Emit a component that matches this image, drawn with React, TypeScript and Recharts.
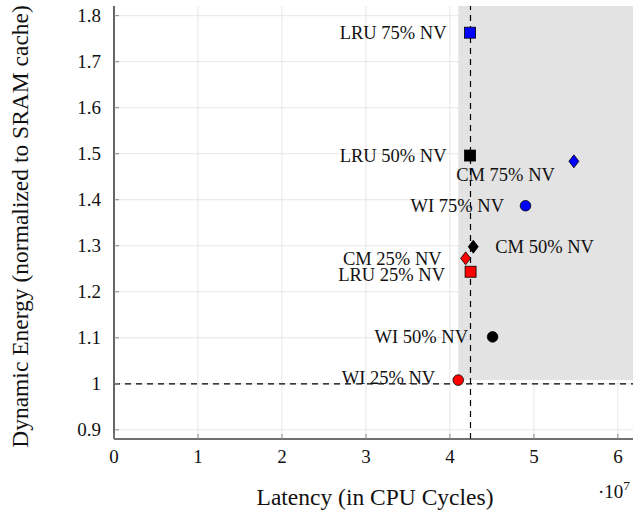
import React from 'react';
import { ScatterChart, Scatter, XAxis, YAxis, CartesianGrid, ReferenceArea, ReferenceLine, Label } from 'recharts';

const FONT = '"Liberation Serif", "Times New Roman", serif';

// Data (latency in units of 10^7 CPU cycles, energy normalized to SRAM cache)
const pointNames = ['LRU 75% NV', 'LRU 50% NV', 'LRU 25% NV', 'CM 75% NV', 'CM 50% NV', 'CM 25% NV', 'WI 75% NV', 'WI 50% NV', 'WI 25% NV'];
const latencyE7 = [4.24, 4.24, 4.246, 5.476, 4.278, 4.187, 4.9, 4.508, 4.099];
const dynEnergy = [1.763, 1.496, 1.2435, 1.4835, 1.298, 1.2726, 1.387, 1.102, 1.008];
const policies = ['LRU', 'LRU', 'LRU', 'CM', 'CM', 'CM', 'WI', 'WI', 'WI'];
const nvPercent = [75, 50, 25, 75, 50, 25, 75, 50, 25];

const xTicks = [0, 1, 2, 3, 4, 5, 6];
const yTicks = [0.9, 1.0, 1.1, 1.2, 1.3, 1.4, 1.5, 1.6, 1.7, 1.8];
const xDomain = [0, 6.18];
const yDomain = [0.88, 1.821];
const sramLatencyE7 = 4.245;
const sramEnergy = 1.0;
const frontierIndex = 8; // WI 25% NV

const nvColor: Record<number, string> = { 75: '#0000ff', 50: '#000000', 25: '#ff0000' };

const labelPlacement: Record<string, { dx: number; dy: number; anchor: 'start' | 'end' | 'middle' }> = {
  'LRU 75% NV': { dx: -23.5, dy: 0, anchor: 'end' },
  'LRU 50% NV': { dx: -23.5, dy: 0, anchor: 'end' },
  'LRU 25% NV': { dx: -25.5, dy: 3, anchor: 'end' },
  'CM 75% NV': { dx: -19, dy: 13, anchor: 'end' },
  'CM 50% NV': { dx: 22, dy: 0, anchor: 'start' },
  'CM 25% NV': { dx: -24, dy: 0, anchor: 'end' },
  'WI 75% NV': { dx: -21.5, dy: 0, anchor: 'end' },
  'WI 50% NV': { dx: -24.5, dy: 0, anchor: 'end' },
  'WI 25% NV': { dx: -23, dy: -2.5, anchor: 'end' },
};

const rows = pointNames.map((name, i) => ({
  name,
  x: latencyE7[i],
  y: dynEnergy[i],
  policy: policies[i],
  nv: nvPercent[i],
}));
const byPolicy = (p: string) => rows.filter((r) => r.policy === p);

const fmt = (v: number) => String(Number(v.toFixed(1)));

function Marker(props: any) {
  const { cx, cy, payload } = props;
  if (cx == null || cy == null) return null;
  const fill = nvColor[payload.nv];
  let mark: React.ReactNode;
  if (payload.policy === 'LRU') {
    mark = <rect x={cx - 5.5} y={cy - 5.5} width={11} height={11} fill={fill} stroke="#000" strokeWidth={0.8} />;
  } else if (payload.policy === 'CM') {
    mark = (
      <polygon
        points={`${cx},${cy - 6.5} ${cx + 5},${cy} ${cx},${cy + 6.5} ${cx - 5},${cy}`}
        fill={fill}
        stroke="#000"
        strokeWidth={0.8}
      />
    );
  } else {
    mark = <circle cx={cx} cy={cy} r={5.3} fill={fill} stroke="#000" strokeWidth={0.8} />;
  }
  const lp = labelPlacement[payload.name];
  return (
    <g>
      {mark}
      <text
        x={cx + lp.dx}
        y={cy + lp.dy}
        dy="0.34em"
        textAnchor={lp.anchor}
        fontFamily={FONT}
        fontSize={18.5}
        fill="#111"
      >
        {payload.name}
      </text>
    </g>
  );
}

function BottomTick(props: any) {
  const { x, y, payload } = props;
  return (
    <g>
      <line x1={x} y1={y} x2={x} y2={y - 5} stroke="#8c8c8c" strokeWidth={1} />
      <text x={x} y={y + 24} textAnchor="middle" fontFamily={FONT} fontSize={19} fill="#111">
        {fmt(payload.value)}
      </text>
    </g>
  );
}

function TopTick(props: any) {
  const { x, y } = props;
  return <line x1={x} y1={y} x2={x} y2={y + 5} stroke="#8c8c8c" strokeWidth={1} />;
}

function LeftTick(props: any) {
  const { x, y, payload } = props;
  return (
    <g>
      <line x1={x} y1={y} x2={x + 5} y2={y} stroke="#8c8c8c" strokeWidth={1} />
      <text x={x - 13} y={y} dy="0.34em" textAnchor="end" fontFamily={FONT} fontSize={19} fill="#111">
        {fmt(payload.value)}
      </text>
    </g>
  );
}

export default function App() {
  return (
    <div style={{ position: 'absolute', left: 0, top: 0, width: 633, height: 515, background: '#fff' }}>
      <ScatterChart width={633} height={515} margin={{ top: 6, right: 0, bottom: 0, left: 0 }}>
        <CartesianGrid
          stroke="#e6e6e6"
          strokeWidth={1}
          horizontalValues={yTicks}
          verticalValues={xTicks}
          xAxisId="bottom"
          yAxisId="left"
        />
        <XAxis
          xAxisId="bottom"
          dataKey="x"
          type="number"
          domain={xDomain}
          ticks={xTicks}
          interval={0}
          allowDataOverflow
          height={76}
          tickSize={0}
          tickMargin={0}
          tickLine={false}
          axisLine={{ stroke: '#404040', strokeWidth: 1.6 }}
          tick={<BottomTick />}
        >
          <Label
            content={(p: any) => {
              const vb = p.viewBox || {};
              return (
                <text
                  x={vb.x + vb.width / 2 + 1.5}
                  y={vb.y + 66}
                  textAnchor="middle"
                  fontFamily={FONT}
                  fontSize={23.5}
                  fill="#111"
                >
                  Latency (in CPU Cycles)
                </text>
              );
            }}
          />
          <Label
            content={(p: any) => {
              const vb = p.viewBox || {};
              return (
                <text x={vb.x + vb.width - 35} y={vb.y + 59} fontFamily={FONT} fontSize={19} fill="#111">
                  ·10<tspan dy={-8} fontSize={13.5}>7</tspan>
                </text>
              );
            }}
          />
        </XAxis>
        <XAxis
          xAxisId="top"
          orientation="top"
          type="number"
          domain={xDomain}
          ticks={xTicks}
          interval={0}
          allowDataOverflow
          height={0}
          tickSize={0}
          tickMargin={0}
          tickLine={false}
          axisLine={{ stroke: '#404040', strokeWidth: 1.6 }}
          tick={<TopTick />}
        />
        <YAxis
          yAxisId="left"
          dataKey="y"
          type="number"
          domain={yDomain}
          ticks={yTicks}
          interval={0}
          allowDataOverflow
          width={114}
          tickSize={0}
          tickMargin={0}
          tickLine={false}
          axisLine={{ stroke: '#404040', strokeWidth: 1.6 }}
          tick={<LeftTick />}
        >
          <Label
            content={(p: any) => {
              const vb = p.viewBox || {};
              const cx = vb.x + 28;
              const cy = vb.y + vb.height / 2 + 4;
              return (
                <text
                  x={cx}
                  y={cy}
                  transform={`rotate(-90 ${cx} ${cy})`}
                  textAnchor="middle"
                  fontFamily={FONT}
                  fontSize={23.5}
                  fill="#111"
                >
                  Dynamic Energy (normalized to SRAM cache)
                </text>
              );
            }}
          />
        </YAxis>
        <ReferenceArea
          xAxisId="bottom"
          yAxisId="left"
          x1={latencyE7[frontierIndex]}
          x2={xDomain[1]}
          y1={dynEnergy[frontierIndex]}
          y2={yDomain[1]}
          fill="#e3e3e3"
          fillOpacity={1}
          stroke="none"
          ifOverflow="hidden"
        />
        <ReferenceLine
          xAxisId="bottom"
          yAxisId="left"
          y={sramEnergy}
          stroke="#000"
          strokeWidth={1.2}
          strokeDasharray="6 5"
        />
        <ReferenceLine
          xAxisId="bottom"
          yAxisId="left"
          x={sramLatencyE7}
          stroke="#000"
          strokeWidth={1.2}
          strokeDasharray="6 5"
        />
        <Scatter xAxisId="bottom" yAxisId="left" name="LRU" data={byPolicy('LRU')} shape={<Marker />} isAnimationActive={false} />
        <Scatter xAxisId="bottom" yAxisId="left" name="CM" data={byPolicy('CM')} shape={<Marker />} isAnimationActive={false} />
        <Scatter xAxisId="bottom" yAxisId="left" name="WI" data={byPolicy('WI')} shape={<Marker />} isAnimationActive={false} />
      </ScatterChart>
    </div>
  );
}
